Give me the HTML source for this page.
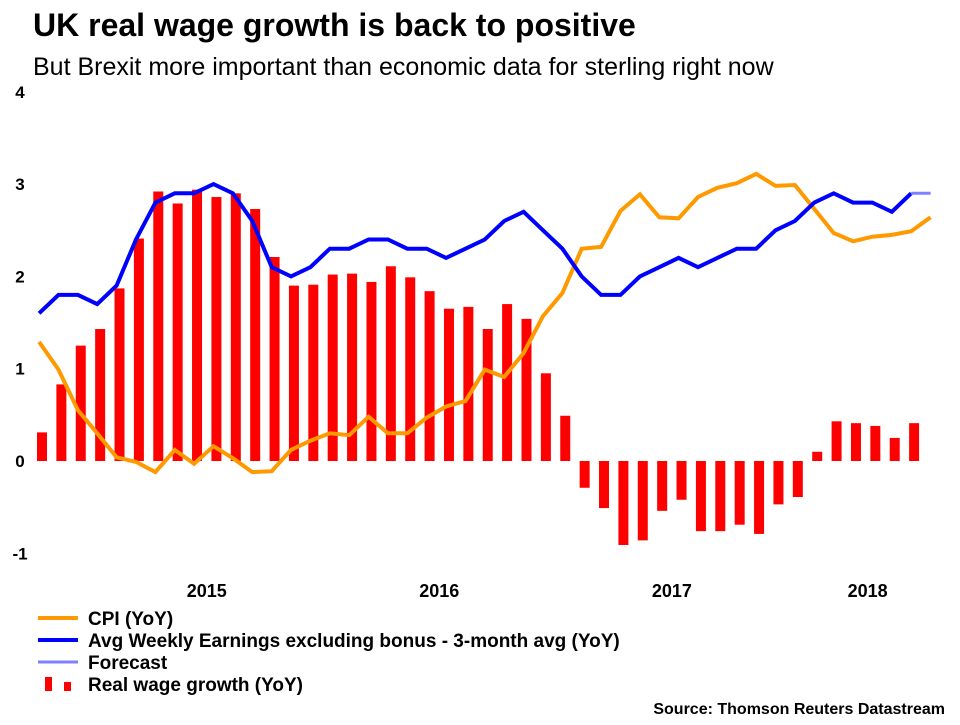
<!DOCTYPE html>
<html><head><meta charset="utf-8">
<style>
body{margin:0;background:#fff;width:960px;height:720px;overflow:hidden;font-family:"Liberation Sans",Arial,sans-serif;}
svg text{font-family:"Liberation Sans",Arial,sans-serif;}
</style></head>
<body>
<svg id="chart" width="960" height="720" xmlns="http://www.w3.org/2000/svg">
<text x="33" y="36" font-size="32" font-weight="bold" fill="#000">UK real wage growth is back to positive</text>
<text x="33" y="75" font-size="25" fill="#000">But Brexit more important than economic data for sterling right now</text>
<g id="yaxis"></g>
<g id="bars"></g>
<g id="lines"></g>
<g id="xaxis"></g>
<g>
 <g><line x1="38" y1="618" x2="78" y2="618" stroke="#ff9900" stroke-width="4"/><text x="88" y="625" font-size="19" font-weight="bold">CPI (YoY)</text></g>
 <g><line x1="38" y1="640" x2="78" y2="640" stroke="#0000ff" stroke-width="4"/><text x="88" y="647" font-size="19" font-weight="bold">Avg Weekly Earnings excluding bonus - 3-month avg (YoY)</text></g>
 <g><line x1="38" y1="662" x2="78" y2="662" stroke="#8080ff" stroke-width="3"/><text x="88" y="669" font-size="19" font-weight="bold">Forecast</text></g>
 <g><rect x="45" y="677" width="7" height="14" fill="#ff0000"/><rect x="64" y="682" width="7" height="9" fill="#ff0000"/><text x="88" y="691" font-size="19" font-weight="bold">Real wage growth (YoY)</text></g>
</g>
<text x="945" y="714" font-size="16" font-weight="bold" text-anchor="end">Source: Thomson Reuters Datastream</text>
</svg>
<script>
const realWage=[0.31,0.83,1.25,1.43,1.87,2.41,2.92,2.79,2.94,2.86,2.90,2.73,2.21,1.90,1.91,2.02,2.03,1.94,2.11,1.99,1.84,1.65,1.67,1.43,1.70,1.54,0.95,0.49,-0.29,-0.51,-0.91,-0.86,-0.54,-0.42,-0.76,-0.76,-0.69,-0.79,-0.47,-0.39,0.10,0.43,0.41,0.38,0.25,0.41];
const cpi=[1.29,0.99,0.55,0.30,0.04,-0.01,-0.12,0.12,-0.03,0.16,0.03,-0.12,-0.11,0.12,0.22,0.30,0.28,0.48,0.30,0.30,0.47,0.59,0.65,0.99,0.91,1.17,1.57,1.82,2.30,2.32,2.71,2.89,2.64,2.63,2.86,2.96,3.01,3.11,2.98,2.99,2.73,2.47,2.38,2.43,2.45,2.49,2.64];
const earnings=[1.6,1.8,1.8,1.7,1.9,2.4,2.8,2.9,2.9,3.0,2.9,2.6,2.1,2.0,2.1,2.3,2.3,2.4,2.4,2.3,2.3,2.2,2.3,2.4,2.6,2.7,2.5,2.3,2.0,1.8,1.8,2.0,2.1,2.2,2.1,2.2,2.3,2.3,2.5,2.6,2.8,2.9,2.8,2.8,2.7,2.9];
const forecast=[2.9,2.9];
const forecastStart=45;
const yTicks=[4,3,2,1,0,-1];
const yearLabels=["2015","2016","2017","2018"];
const yearCenters=[8.5,20.5,32.5,42.6];
const NS="http://www.w3.org/2000/svg";
function X(i){return 42+i*19.38;}
function Y(v){return 461-v*92.3;}
function mk(tag,attrs,parent){const e=document.createElementNS(NS,tag);for(const k in attrs)e.setAttribute(k,attrs[k]);parent.appendChild(e);return e;}
const ya=document.getElementById('yaxis');
yTicks.forEach(t=>{const e=mk('text',{x:20,y:Y(t)+6,'font-size':17,'font-weight':'bold','text-anchor':'middle'},ya);e.textContent=(t<0?'-'+Math.abs(t):t);

});
const xa=document.getElementById('xaxis');
yearLabels.forEach((l,i)=>{const e=mk('text',{x:X(yearCenters[i]),y:597,'font-size':18,'font-weight':'bold','text-anchor':'middle'},xa);e.textContent=l;

});
const bg=document.getElementById('bars');
realWage.forEach((v,i)=>{const y0=Y(0),y1=Y(v);const r=mk('rect',{x:X(i)-5,y:Math.min(y0,y1),width:10,height:Math.abs(y1-y0),fill:'#ff0000'},bg);

});
const lg=document.getElementById('lines');
function line(arr,off,color,w,name){const p=mk('polyline',{points:arr.map((v,i)=>X(i+off).toFixed(1)+','+Y(v).toFixed(1)).join(' '),fill:'none',stroke:color,'stroke-width':w,'stroke-linejoin':'miter'},lg);

}
line(cpi,-0.15,'#ff9900',4,'cpi-line');
line(earnings,-0.15,'#0000ff',4,'earnings-line');
line(forecast,forecastStart-0.15,'#8080ff',3,'forecast-line');
</script>
</body></html>
